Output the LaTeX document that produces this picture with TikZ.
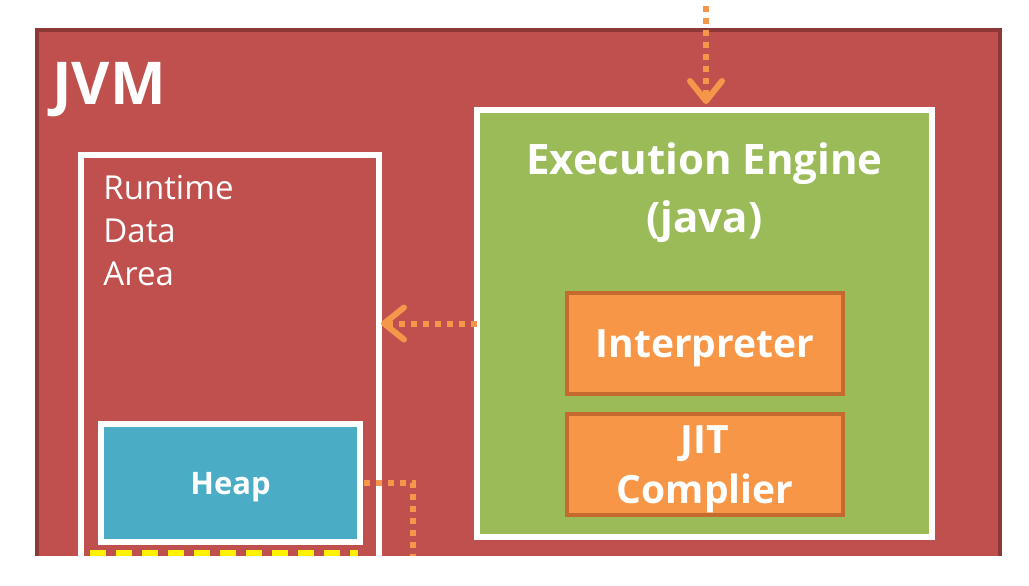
\documentclass[tikz,border=0pt]{standalone}
\usepackage{fontspec}
\setmainfont{Open Sans}
\usepackage{xcolor}
\usepackage{tikz}
\usetikzlibrary{arrows.meta, positioning}
\definecolor{jvmred}{HTML}{C0504D}
\definecolor{jvmdark}{HTML}{8C3836}
\definecolor{enggreen}{HTML}{9BBB59}
\definecolor{unitorange}{HTML}{F79646}
\definecolor{unitedge}{HTML}{C46A2E}
\definecolor{heapblue}{HTML}{4BACC6}
\definecolor{flowcol}{HTML}{F5974A}
\tikzstyle{jvmbox} = [rectangle, draw=jvmdark, line width=2pt, fill=jvmred, outer sep=0pt]
\tikzstyle{areabox} = [rectangle, draw=white, line width=3pt, outer sep=0pt]
\tikzstyle{enginebox} = [rectangle, draw=white, line width=3pt, fill=enggreen, outer sep=0pt]
\tikzstyle{unitbox} = [rectangle, draw=unitedge, line width=2pt, fill=unitorange, outer sep=0pt, text=white, align=center, text depth=0pt, font=\bfseries\fontsize{19.5}{25}\selectfont]
\tikzstyle{heapbox} = [rectangle, draw=white, line width=3pt, fill=heapblue, outer sep=0pt, text=white, text depth=0pt, font=\bfseries\fontsize{15.5}{19}\selectfont]
\tikzstyle{flow} = [line width=3pt, draw=flowcol, dash pattern=on 3pt off 3pt, -{Straight Barb[length=10pt, width=16pt, line width=3pt, round]}]
\tikzstyle{plainflow} = [line width=3pt, draw=flowcol, dash pattern=on 3pt off 3pt]

\begin{document}
\begin{tikzpicture}[x=0.5pt, y=-0.5pt]
    \useasboundingbox (0,0) rectangle (1029,585);
    \clip (0,0) rectangle (1029,555);
    \node (jvm) [jvmbox, minimum width=481.5pt, minimum height=295pt] at (518.5,325) {};
    \node (jvmtitle) [below right=16pt and 7.5pt of jvm.north west, inner sep=0pt, text=white, font=\bfseries\fontsize{29.5}{34}\selectfont] {JVM};
    \node (runtime) [areabox, minimum width=149pt, minimum height=232.5pt] at (230,387.5) {};
    \node (rttext) [below right=10pt and 11pt of runtime.north west, inner sep=0pt, text=white, align=left, font=\fontsize{16.5}{21.5}\selectfont] {Runtime\\Data\\Area};
    \node (engine) [enginebox, minimum width=227.5pt, minimum height=213.5pt] at (704.5,323.5) {};
    \node (engtitle) [below=16pt of engine.north, inner sep=0pt, text=white, align=center, font=\bfseries\fontsize{21}{29}\selectfont] {Execution Engine\\(java)};
    \node (interp) [unitbox, minimum width=138pt, minimum height=50.5pt] at (705,343.5) {Interpreter};
    \node (jit) [unitbox, below=10pt of interp, minimum width=138pt, minimum height=50.5pt] {JIT\\Complier};
    \node (heap) [heapbox, minimum width=129.5pt, minimum height=59pt] at (230.5,483) {Heap};
    % edge of the next area, cut by the picture
    \draw [yellow, line width=4.5pt, dash pattern=on 8pt off 5pt] (90,554) -- (358,554);
    \coordinate (src) at (706,6);
    \coordinate (heapout) at (413,600);
    \draw [flow, shorten >=3pt] (src) -- (src |- engine.north);
    \draw [flow, shorten >=1pt] (engine.west) -- (runtime.east |- engine.west);
    \draw [plainflow] ([xshift=2pt]heap.east) -| (heapout);
\end{tikzpicture}
\end{document}
